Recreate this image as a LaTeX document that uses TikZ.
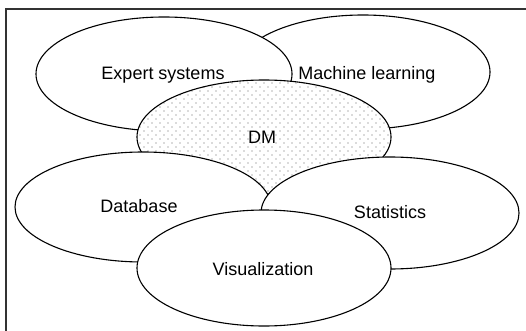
\documentclass[tikz,border=0pt]{standalone}
\usepackage{fontspec}
\setmainfont{Liberation Sans}
\usetikzlibrary{shapes.geometric,patterns}
\pgfdeclarepatternformonly{dmdots}{\pgfpoint{-1pt}{-1pt}}{\pgfpoint{5pt}{5pt}}{\pgfpoint{8pt}{8pt}}{%
  \pgfpathcircle{\pgfpoint{0pt}{0pt}}{0.65pt}%
  \pgfpathcircle{\pgfpoint{4pt}{4pt}}{0.65pt}%
  \pgfusepath{fill}}
\begin{document}
\begin{tikzpicture}[x=1pt,y=-1pt,
  blob/.style={ellipse, draw=black, line width=1.1pt, fill=white, inner sep=0pt},
  dmblob/.style={ellipse, draw=black, line width=1.1pt, inner sep=0pt,
    preaction={fill=white}, pattern=dmdots, pattern color=black!60},
  lbl/.style={anchor=base, inner sep=0pt, font=\fontsize{18}{20}\selectfont},
  frame/.style={draw=black!80, line width=1.5pt}]
\useasboundingbox (0,0) rectangle (526,331);
\draw[frame] (6,331) -- (6,9) -- (526,9);
\node[blob, minimum width=254pt, minimum height=114pt] (ml) at (363,72) {};
\node[blob, minimum width=256pt, minimum height=114pt] (es) at (164,74) {};
\node[dmblob, minimum width=254pt, minimum height=114pt] (dm) at (264,137) {};
\node[blob, minimum width=256pt, minimum height=110pt] (db) at (143,207) {};
\node[blob, minimum width=258pt, minimum height=112pt] (st) at (390,213) {};
\node[blob, minimum width=254pt, minimum height=116pt] (vi) at (264,268) {};
\node[lbl] (tes) at (163,80) {Expert systems};
\node[lbl] (tml) at (367,80) {Machine learning};
\node[lbl] (tdm) at (262,143) {DM};
\node[lbl] (tdb) at (139,212) {Database};
\node[lbl] (tst) at (390,218) {Statistics};
\node[lbl] (tvi) at (263,275) {Visualization};
\end{tikzpicture}
\end{document}
